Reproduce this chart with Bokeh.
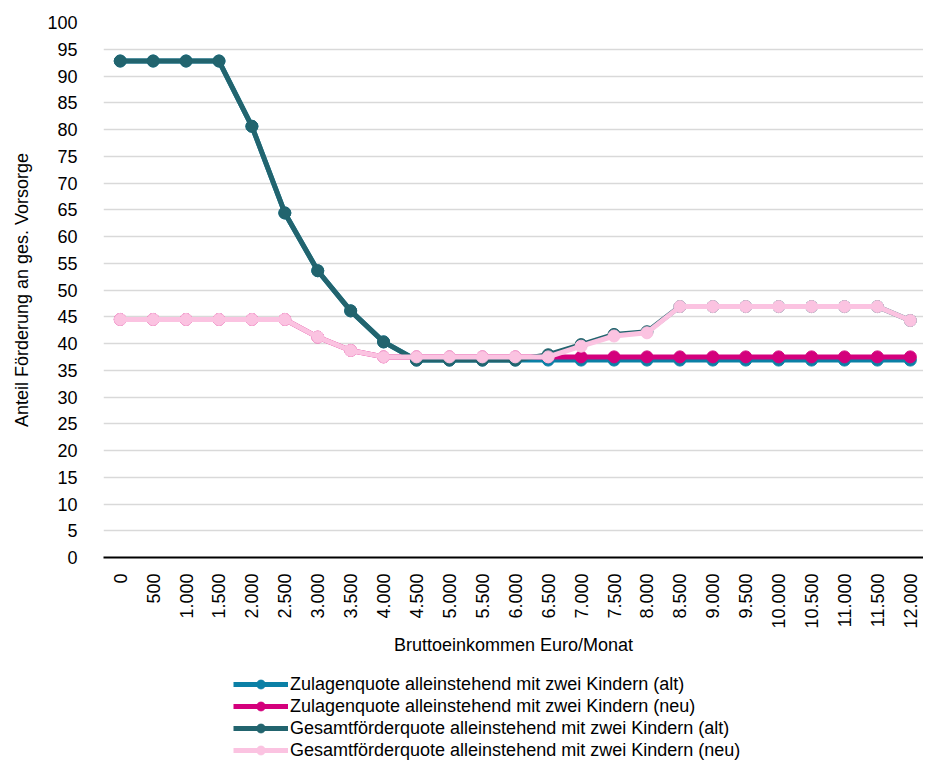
import math
from bokeh.plotting import figure
from bokeh.layouts import column
from bokeh.models import ColumnDataSource, Range1d, Legend, LegendItem, FixedTicker
from bokeh.embed import file_html
from bokeh.resources import INLINE

# ---- data ----
income_labels = ["0", "500", "1.000", "1.500", "2.000", "2.500", "3.000", "3.500",
                 "4.000", "4.500", "5.000", "5.500", "6.000", "6.500", "7.000",
                 "7.500", "8.000", "8.500", "9.000", "9.500", "10.000", "10.500",
                 "11.000", "11.500", "12.000"]
zulagen_alt = [92.8, 92.8, 92.8, 92.8, 80.6, 64.4, 53.6, 46.1, 40.3, 36.9, 36.9, 36.9,
               36.9, 36.9, 36.9, 36.9, 36.9, 36.9, 36.9, 36.9, 36.9, 36.9, 36.9, 36.9, 36.9]
zulagen_neu = [44.5, 44.5, 44.5, 44.5, 44.5, 44.5, 41.2, 38.7, 37.5, 37.5, 37.5, 37.5,
               37.5, 37.5, 37.5, 37.5, 37.5, 37.5, 37.5, 37.5, 37.5, 37.5, 37.5, 37.5, 37.5]
gesamt_alt = [92.8, 92.8, 92.8, 92.8, 80.6, 64.4, 53.6, 46.1, 40.3, 36.9, 36.9, 36.9,
              36.9, 37.9, 39.8, 41.7, 42.2, 46.9, 46.9, 46.9, 46.9, 46.9, 46.9, 46.9, 44.3]
gesamt_neu = [44.5, 44.5, 44.5, 44.5, 44.5, 44.5, 41.2, 38.7, 37.5, 37.5, 37.5, 37.5,
              37.5, 37.5, 39.5, 41.4, 42.0, 46.9, 46.9, 46.9, 46.9, 46.9, 46.9, 46.9, 44.3]
series_names = ["Zulagenquote alleinstehend mit zwei Kindern (alt)",
                "Zulagenquote alleinstehend mit zwei Kindern (neu)",
                "Gesamtförderquote alleinstehend mit zwei Kindern (alt)",
                "Gesamtförderquote alleinstehend mit zwei Kindern (neu)"]
y_ticks = list(range(0, 101, 5))

colors = ["#0b80a6", "#d4007c", "#22646e", "#fbc3e1"]
FONT = "Liberation Sans"
FS = "18px"

x = list(range(len(income_labels)))

W = 923
MAIN_H = 673
LEG_H = 88

p = figure(width=W, height=MAIN_H, output_backend="svg", toolbar_location=None,
           x_range=Range1d(-0.508, 24.4), y_range=Range1d(0, 100),
           min_border_left=103, min_border_right=0, min_border_top=22,
           min_border_bottom=MAIN_H - 557)
p.outline_line_color = None
p.background_fill_color = "white"
p.border_fill_color = "white"

# grid
p.xgrid.grid_line_color = None
p.ygrid.ticker = FixedTicker(ticks=y_ticks[1:])
p.ygrid.grid_line_color = "#d9d9d9"
p.ygrid.grid_line_width = 1.5

# y axis
p.yaxis.ticker = FixedTicker(ticks=y_ticks)
p.yaxis.axis_line_color = None
p.yaxis.major_tick_line_color = None
p.yaxis.minor_tick_line_color = None
p.yaxis.major_label_text_font = FONT
p.yaxis.major_label_text_font_size = FS
p.yaxis.major_label_text_color = "black"
p.yaxis.major_label_standoff = 20
p.yaxis.axis_label = "Anteil Förderung an ges. Vorsorge"
p.yaxis.axis_label_text_font = FONT
p.yaxis.axis_label_text_font_size = FS
p.yaxis.axis_label_text_font_style = "normal"
p.yaxis.axis_label_text_color = "black"
p.yaxis.axis_label_standoff = 12

# x axis
p.xaxis.ticker = FixedTicker(ticks=x)
p.xaxis.major_label_overrides = {i: lab for i, lab in enumerate(income_labels)}
p.xaxis.major_label_orientation = math.pi / 2
p.xaxis.axis_line_color = "black"
p.xaxis.axis_line_width = 2
p.xaxis.major_tick_line_color = None
p.xaxis.minor_tick_line_color = None
p.xaxis.major_label_text_font = FONT
p.xaxis.major_label_text_font_size = FS
p.xaxis.major_label_text_color = "black"
p.xaxis.major_label_standoff = 10
p.xaxis.axis_label = "Bruttoeinkommen Euro/Monat"
p.xaxis.axis_label_text_font = FONT
p.xaxis.axis_label_text_font_size = FS
p.xaxis.axis_label_text_font_style = "normal"
p.xaxis.axis_label_text_color = "black"
p.xaxis.axis_label_standoff = 3

series = [zulagen_alt, zulagen_neu, gesamt_alt, gesamt_neu]
for vals, col in zip(series, colors):
    src = ColumnDataSource(dict(x=x, y=vals))
    p.line("x", "y", source=src, line_color=col, line_width=5)
    p.scatter("x", "y", source=src, size=12, fill_color=col, line_color=col)

# legend figure (proxy renderers lie outside its visible range)
lf = figure(width=W, height=LEG_H, output_backend="svg", toolbar_location=None,
            x_range=Range1d(0, 1), y_range=Range1d(0, 1),
            min_border_left=103, min_border_right=0, min_border_top=0,
            min_border_bottom=0)
lf.axis.visible = False
lf.grid.visible = False
lf.outline_line_color = None
items = []
for col, name in zip(colors, series_names):
    proxy = ColumnDataSource(dict(x=[-5, -4], y=[-5, -5]))
    lr = lf.line("x", "y", source=proxy, line_color=col, line_width=5)
    sr = lf.scatter("x", "y", source=proxy, size=9, fill_color=col, line_color=col)
    items.append(LegendItem(label=name, renderers=[lr, sr]))

legend = Legend(items=items, location=(130, 0), orientation="vertical",
                label_text_font=FONT, label_text_font_size=FS,
                label_text_color="black", glyph_width=55, glyph_height=22,
                label_height=22, spacing=0, padding=0, margin=0,
                label_standoff=2, border_line_color=None,
                background_fill_alpha=0)
lf.add_layout(legend, "center")

layout = column(p, lf, spacing=0)
open("out.html", "w").write(file_html(layout, INLINE))
